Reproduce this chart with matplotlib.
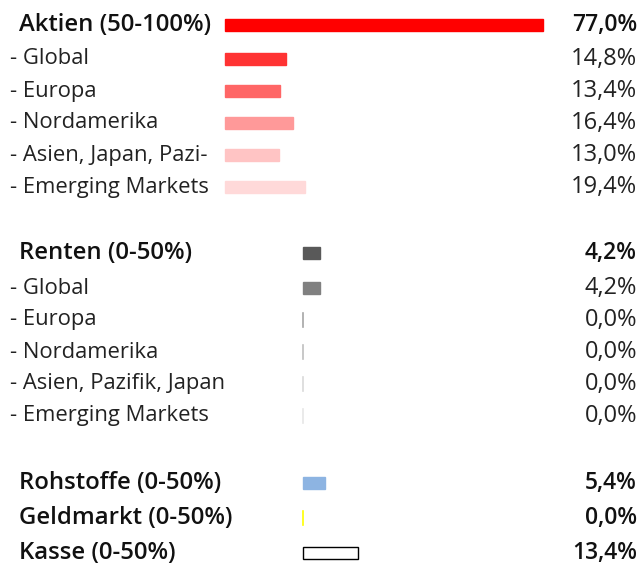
import matplotlib.pyplot as plt

# --- data ---
labels = ["Aktien (50-100%)", "- Global", "- Europa", "- Nordamerika",
          "- Asien, Japan, Pazi-", "- Emerging Markets",
          "Renten (0-50%)", "- Global", "- Europa", "- Nordamerika",
          "- Asien, Pazifik, Japan", "- Emerging Markets",
          "Rohstoffe (0-50%)", "Geldmarkt (0-50%)", "Kasse (0-50%)"]
values = [77.0, 14.8, 13.4, 16.4, 13.0, 19.4,
          4.2, 4.2, 0.0, 0.0, 0.0, 0.0,
          5.4, 0.0, 13.4]
is_header = [True, False, False, False, False, False,
             True, False, False, False, False, False,
             True, True, True]
colors = ["#ff0000", "#ff3333", "#ff6666", "#ff9999", "#ffc4c4", "#ffd9d9",
          "#595959", "#808080", "#a6a6a6", "#bfbfbf", "#d9d9d9", "#e6e6e6",
          "#8db4e2", "#ffff00", "#ffffff"]
edges = [None] * 14 + ["black"]

# --- layout (pixels) ---
W, H = 639, 576
rows_y = [25, 59, 91, 123, 155, 187,
          253, 288, 320, 352, 384, 416,
          483, 518, 553]
bar_start = [225] * 6 + [303] * 9
px_per_pct = 318 / 77.0
bar_h = 12

fig = plt.figure(figsize=(W / 100, H / 100), dpi=100)
ax = fig.add_axes([0, 0, 1, 1])
ax.set_xlim(0, W)
ax.set_ylim(H, 0)
ax.axis("off")

for lab, v, hd, c, e, y, x0 in zip(labels, values, is_header, colors, edges, rows_y, bar_start):
    if v > 0:
        ax.barh(y, v * px_per_pct, left=x0, height=bar_h, color=c,
                edgecolor=e if e else c, linewidth=1)
    else:
        ax.plot([x0, x0], [y - 7, y + 7], color=c, lw=1.2)
    tx = 19 if hd else 10
    ax.text(tx, y, lab, ha="left", va="center", fontsize=17.2 if hd else 15.8,
            family="Open Sans", fontweight="semibold" if hd else "normal",
            color="#111111" if hd else "#222222")
    ax.text(637, y, f"{v:.1f}%".replace(".", ","), ha="right", va="center",
            fontsize=16.5 if hd else 17, family="Open Sans",
            fontweight="semibold" if hd else "normal",
            color="#111111" if hd else "#222222")

fig.savefig("out.png", dpi=100)
